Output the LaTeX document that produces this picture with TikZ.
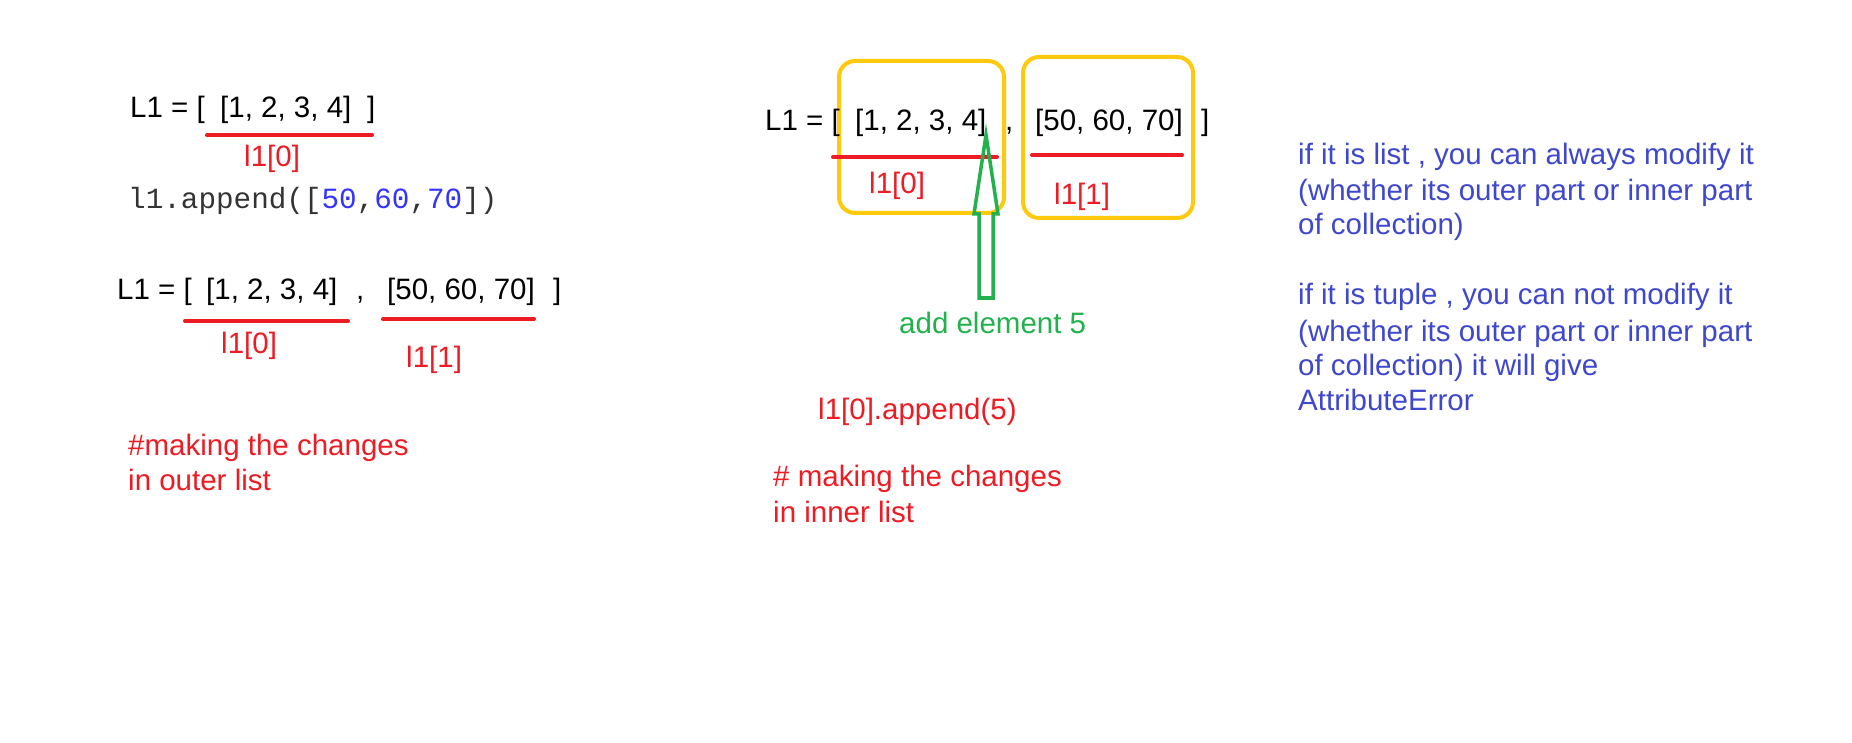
\documentclass[tikz,border=0pt]{standalone}
\usepackage{fontspec}
\setmainfont{Liberation Sans}
\setmonofont{Liberation Mono}
\definecolor{pred}{HTML}{ED1C24}
\definecolor{pyellow}{HTML}{FFC90E}
\definecolor{pgreen}{HTML}{22B14C}
\definecolor{pblue}{HTML}{3F48CC}
\definecolor{cblue}{HTML}{3333FF}
\definecolor{cgray}{HTML}{333333}
\tikzset{
  txt/.style={inner sep=0pt, anchor=base west, font=\fontsize{29.5}{35}\selectfont},
  redtxt/.style={txt, text=pred},
  bluetxt/.style={txt, text=pblue},
  greentxt/.style={txt, text=pgreen},
  codetxt/.style={txt, text=cgray, font=\ttfamily\fontsize{29.3}{35}\selectfont},
  underl/.style={draw=pred, line width=4pt, line cap=round},
  ybox/.style={draw=pyellow, line width=4pt, rounded corners=16pt},
  garrow/.style={draw=pgreen, line width=3.5pt, line join=miter}
}
\begin{document}
\begin{tikzpicture}[x=1pt,y=-1pt]
\useasboundingbox[fill=white] (0,0) rectangle (1852,743);
% ---------- left block ----------
\node[txt] (a1) at (130,118) {L1 = [};
\node[txt] (a2) at (220,118) {[1, 2, 3, 4]};
\node[txt] (a3) at (367,118) {]};
\draw[underl] (207,135) -- (372,135);
\node[redtxt] (a4) at (244,167) {l1[0]};
\node[codetxt] (a5) at (128,209) {l1.append([\textcolor{cblue}{50},\textcolor{cblue}{60},\textcolor{cblue}{70}])};
\node[txt] (b1) at (117,299) {L1 = [};
\node[txt] (b2) at (206,299) {[1, 2, 3, 4]};
\node[txt] (b3) at (356,299) {,};
\node[txt] (b4) at (387,299) {[50, 60, 70]};
\node[txt] (b5) at (553,299) {]};
\draw[underl] (185,321) -- (348,321);
\draw[underl] (383,319) -- (534,319);
\node[redtxt] (b6) at (221,353) {l1[0]};
\node[redtxt] (b7) at (406,367) {l1[1]};
\node[redtxt] (b8) at (128,455) {\#making the changes};
\node[redtxt] (b9) at (128,490) {in outer list};
% ---------- middle block ----------
\draw[ybox] (839,61) rectangle (1004,213);
\draw[ybox] (1023,57) rectangle (1193,218);
\node[txt] (c1) at (765,131) {L1 = [};
\node[txt] (c2) at (855,131) {[1, 2, 3, 4]};
\node[txt] (c3) at (1005,131) {,};
\node[txt] (c4) at (1035,131) {[50, 60, 70]};
\node[txt] (c5) at (1201,131) {]};
\draw[underl] (833,157) -- (997,157);
\draw[underl] (1032,155) -- (1182,155);
\node[redtxt] (c6) at (869,194) {l1[0]};
\node[redtxt] (c7) at (1054,205) {l1[1]};
\draw[garrow] (986,135) -- (998,214) -- (993,214) -- (993,298) -- (979,298) -- (979,214) -- (974,214) -- cycle;
\node[greentxt] (c8) at (899,333) {add element 5};
\node[redtxt] (c9) at (818,419) {l1[0].append(5)};
\node[redtxt] (c10) at (773,486) {\# making the changes};
\node[redtxt] (c11) at (773,522) {in inner list};
% ---------- right block ----------
\node[bluetxt] (d1) at (1298,165) {if it is list , you can always modify it};
\node[bluetxt] (d2) at (1298,201) {(whether its outer part or inner part};
\node[bluetxt] (d3) at (1298,235) {of collection)};
\node[bluetxt] (d4) at (1298,305) {if it is tuple , you can not modify it};
\node[bluetxt] (d5) at (1298,341) {(whether its outer part or inner part};
\node[bluetxt] (d6) at (1298,375) {of collection) it will give};
\node[bluetxt] (d7) at (1298,410) {AttributeError};
\end{tikzpicture}
\end{document}
